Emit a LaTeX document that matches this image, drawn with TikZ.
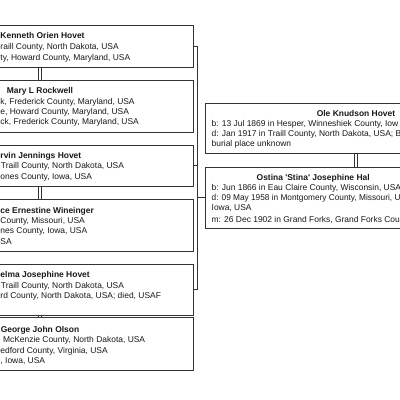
\documentclass[tikz,border=0pt]{standalone}
\usepackage{fontspec}
\setmainfont{Liberation Sans}
\begin{document}
\begin{tikzpicture}[x=1pt,y=-1pt,
  pbox/.style={draw=black!80, line width=0.85pt, fill=white, rectangle, inner sep=0pt, outer sep=0pt},
  conn/.style={draw=black!80, line width=0.75pt},
  txt/.style={inner sep=0pt, outer sep=0pt, font=\fontsize{8.45}{10}\selectfont, text=black!90},
  nm/.style={txt, font=\fontsize{8.45}{10}\selectfont\bfseries, anchor=mid},
  le/.style={txt, anchor=mid east},
  lw/.style={txt, anchor=mid west}]
\useasboundingbox (0,0) rectangle (400,400);
\clip (0,0) rectangle (400,400);
\fill[white] (0,0) rectangle (400,400);
% boxes
\node[pbox, minimum width=306pt, minimum height=42pt] (b1) at (40,46) {};
\node[pbox, minimum width=306pt, minimum height=52pt] (b2) at (40,106) {};
\node[pbox, minimum width=306pt, minimum height=41pt] (b3) at (40,165.5) {};
\node[pbox, minimum width=306pt, minimum height=52pt] (b4) at (40,225) {};
\node[pbox, minimum width=306pt, minimum height=51pt] (b5) at (40,289.5) {};
\node[pbox, minimum width=306pt, minimum height=53pt] (b6) at (40,343.5) {};
\node[pbox, minimum width=302pt, minimum height=50pt] (ole) at (356,128) {};
\node[pbox, minimum width=302pt, minimum height=61pt] (ostina) at (356,197.5) {};
% couple connectors
\foreach \a/\b in {b1/b2, b3/b4, b5/b6, ole/ostina}{
  \draw[conn] ([xshift=-1.2pt]\a.south) -- ([xshift=-1.2pt]\b.north);
  \draw[conn] ([xshift=1.2pt]\a.south) -- ([xshift=1.2pt]\b.north);
}
% bracket
\coordinate (bx) at (197,197.5);
\draw[conn] (b1.east) -| (bx);
\draw[conn] (b5.east) -| (bx);
\draw[conn] (b3.east) -- (b3.east -| bx);
\draw[conn] (bx) -- (ostina.west);
% box 1
\node[nm, anchor=mid west] (t1n) at (0.5,36) {Kenneth Orien Hovet};
\node[lw] (t1a) at (0.5,46.7) {raill County, North Dakota, USA};
\node[lw] (t1b) at (0.5,57.7) {ty, Howard County, Maryland, USA};
% box 2
\node[nm] (t2n) at (40,91) {Mary L Rockwell};
\node[lw] (t2a) at (0.5,101.7) {k, Frederick County, Maryland, USA};
\node[lw] (t2b) at (0.5,111.7) {e, Howard County, Maryland, USA};
\node[lw] (t2c) at (0.5,122.3) {ck, Frederick County, Maryland, USA};
% box 3
\node[nm, anchor=mid west] (t3n) at (0.5,156) {rvin Jennings Hovet};
\node[lw] (t3a) at (1,166) {Traill County, North Dakota, USA};
\node[lw] (t3b) at (0.5,176.7) {ones County, Iowa, USA};
% box 4
\node[nm, anchor=mid west] (t4n) at (0.5,211) {ce Ernestine Wineinger};
\node[lw] (t4a) at (0.5,221) {County, Missouri, USA};
\node[lw] (t4b) at (0.5,231) {nes County, Iowa, USA};
\node[lw] (t4c) at (0.5,241.7) {SA};
% box 5
\node[nm, anchor=mid west] (t5n) at (0.5,275) {elma Josephine Hovet};
\node[lw] (t5a) at (1,285.7) {Traill County, North Dakota, USA};
\node[lw] (t5b) at (0.5,295.7) {rd County, North Dakota, USA; died, USAF};
% box 6
\node[nm] (t6n) at (40,330) {George John Olson};
\node[lw] (t6a) at (3,340) {McKenzie County, North Dakota, USA};
\node[lw] (t6b) at (0.5,350.7) {edford County, Virginia, USA};
\node[lw] (t6c) at (0.5,360.7) {, Iowa, USA};
% Ole
\node[nm] (ton) at (356,114) {Ole Knudson Hovet};
\node[lw] (toa) at (211.7,123.7) {b: 13 Jul 1869 in Hesper, Winneshiek County, Iow};
\node[lw] (tob) at (211.7,133.7) {d: Jan 1917 in Traill County, North Dakota, USA; B};
\node[lw] (toc) at (211.7,143.5) {burial place unknown};
% Ostina
\node[nm, anchor=mid west] (tsn) at (256.7,178) {Ostina \textquotesingle Stina\textquotesingle{} Josephine Hal};
\node[lw] (tsa) at (211.7,188) {b: Jun 1866 in Eau Claire County, Wisconsin, USA};
\node[lw, xscale=0.98] (tsb) at (211.7,198) {d: 09 May 1958 in Montgomery County, Missouri, U};
\node[lw] (tsc) at (211.7,208) {Iowa, USA};
\node[lw] (tsd) at (211.7,220) {m: 26 Dec 1902 in Grand Forks, Grand Forks Cou};
\end{tikzpicture}
\end{document}
